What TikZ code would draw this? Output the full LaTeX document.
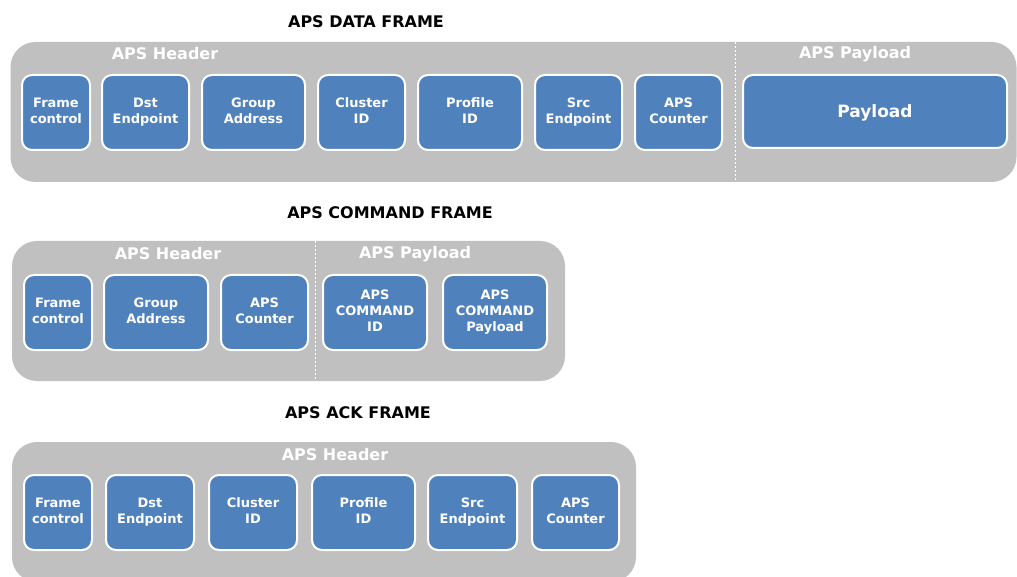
\documentclass[tikz,border=0pt]{standalone}
\usepackage{fontspec}
\setmainfont{DejaVu Sans}
\usetikzlibrary{positioning}
\definecolor{framegray}{RGB}{192,192,192}
\definecolor{fieldblue}{RGB}{79,129,189}
\newcommand{\topstrut}{\rule{0pt}{16pt}}
\newcommand{\botstrut}{\rule[-3.2pt]{0pt}{3.2pt}}
\tikzset{
  framebox/.style  = {rectangle, rounded corners=25pt, fill=framegray,
                      draw=none, minimum height=140pt, inner sep=0pt},
  fieldbox/.style  = {rectangle, rounded corners=10pt, fill=fieldblue,
                      draw=white, line width=2pt, text=white, align=center,
                      minimum height=75pt, inner sep=0pt,
                      execute at begin node=\topstrut,
                      execute at end node=\botstrut,
                      font=\bfseries\fontsize{13}{16}\selectfont},
  titlelbl/.style  = {font=\bfseries\fontsize{16}{19}\selectfont, text=black},
  partlbl/.style   = {font=\bfseries\fontsize{16}{19}\selectfont, text=white},
  sepline/.style   = {draw=white, line width=0.8pt, dash pattern=on 2pt off 2pt}
}

\begin{document}
\begin{tikzpicture}[x=1pt, y=-1pt]
  \useasboundingbox (0,0) rectangle (1017,577);
  \clip (0,0) rectangle (1017,577);
  % Data frame
  \node[titlelbl] (t1) at (366,22) {APS DATA FRAME};
  \node[framebox, minimum width=1006pt] (f1) at (513.5,112) {};
  \draw[sepline] (735,42) -- (735,182);
  \node[partlbl] (h1) at (165,54) {APS Header};
  \node[partlbl] (p1) at (855,54) {APS Payload};
  \node[fieldbox, minimum width=68pt]  (fc1)  at (56,112.5)    {Frame\\control};
  \node[fieldbox, minimum width=87pt]  (dst1) at (145.5,112.5) {Dst\\Endpoint};
  \node[fieldbox, minimum width=103pt] (grp1) at (253.5,112.5) {Group\\Address};
  \node[fieldbox, minimum width=87pt]  (clu1) at (361.5,112.5) {Cluster\\ID};
  \node[fieldbox, minimum width=104pt] (pro1) at (470,112.5)   {Profile\\ID};
  \node[fieldbox, minimum width=87pt]  (src1) at (578.5,112.5) {Src\\Endpoint};
  \node[fieldbox, minimum width=87pt]  (cnt1) at (678.5,112.5) {APS\\Counter};
  \node[fieldbox, minimum width=264pt, minimum height=73pt,
        font=\bfseries\fontsize{17}{20}\selectfont] (pay1) at (875,111.5) {Payload};
  % Command frame
  \node[titlelbl] (t2) at (390,213) {APS COMMAND FRAME};
  \node[framebox, minimum width=553pt] (f2) at (288.5,311) {};
  \draw[sepline] (315,241) -- (315,381);
  \node[partlbl] (h2) at (168,254) {APS Header};
  \node[partlbl] (p2) at (415,254) {APS Payload};
  \node[fieldbox, minimum width=68pt]  (fc2)  at (58,312.5)    {Frame\\control};
  \node[fieldbox, minimum width=104pt] (grp2) at (156,312.5)   {Group\\Address};
  \node[fieldbox, minimum width=87pt]  (cnt2) at (264.5,312.5) {APS\\Counter};
  \node[fieldbox, minimum width=104pt] (cid2) at (375,312.5)   {APS\\COMMAND\\ID};
  \node[fieldbox, minimum width=104pt] (cpl2) at (495,312.5)   {APS\\COMMAND\\Payload};
  % Ack frame
  \node[titlelbl] (t3) at (358,413) {APS ACK FRAME};
  \node[framebox, minimum width=624pt] (f3) at (324,512) {};
  \node[partlbl] (h3) at (335,455) {APS Header};
  \node[fieldbox, minimum width=68pt]  (fc3)  at (58,512.5)    {Frame\\control};
  \node[fieldbox, minimum width=88pt]  (dst3) at (150,512.5)   {Dst\\Endpoint};
  \node[fieldbox, minimum width=88pt]  (clu3) at (253,512.5)   {Cluster\\ID};
  \node[fieldbox, minimum width=103pt] (pro3) at (363.5,512.5) {Profile\\ID};
  \node[fieldbox, minimum width=89pt]  (src3) at (472.5,512.5) {Src\\Endpoint};
  \node[fieldbox, minimum width=87pt]  (cnt3) at (575.5,512.5) {APS\\Counter};
\end{tikzpicture}
\end{document}
